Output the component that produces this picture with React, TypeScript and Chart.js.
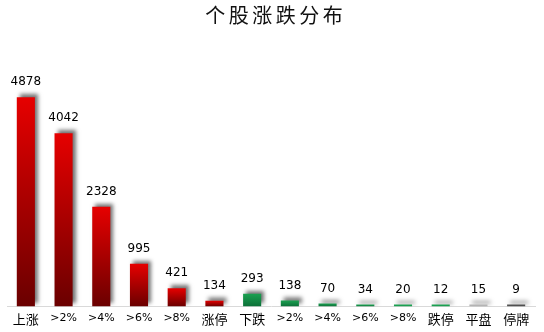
import React, { useEffect, useRef } from "react";
import { Chart, registerables } from "chart.js";
Chart.register(...registerables);

const title = "个股涨跌分布";
const categories = ["上涨", ">2%", ">4%", ">6%", ">8%", "涨停", "下跌", ">2%", ">4%", ">6%", ">8%", "跌停", "平盘", "停牌"];
const values = [4878, 4042, 2328, 995, 421, 134, 293, 138, 70, 34, 20, 12, 15, 9];
const kinds = ["up", "up", "up", "up", "up", "up", "down", "down", "down", "down", "down", "down", "flat", "halt"];

const palette: Record<string, [string, string]> = {
  up: ["#e60000", "#6a0000"],
  down: ["#1aa050", "#0c7038"],
  flat: ["#b4b4b4", "#a0a0a0"],
  halt: ["#505050", "#404040"],
};

export default function App() {
  const ref = useRef<HTMLCanvasElement>(null);
  useEffect(() => {
    document.body.style.margin = "0";
    const canvas = ref.current!;
    const shadowPlugin = {
      id: "shadow",
      beforeDatasetsDraw(chart: any) {
        const ctx = chart.ctx;
        ctx.save();
        ctx.shadowColor = "rgba(0,0,0,0.55)";
        ctx.shadowBlur = 4;
        ctx.shadowOffsetX = 3;
        ctx.shadowOffsetY = -3;
      },
      afterDatasetsDraw(chart: any) {
        chart.ctx.restore();
      },
    };
    const labelPlugin = {
      id: "labels",
      afterDraw(chart: any) {
        const ctx = chart.ctx;
        const meta = chart.getDatasetMeta(0);
        ctx.save();
        ctx.shadowColor = "transparent";
        ctx.fillStyle = "#000";
        ctx.font = "12px 'DejaVu Sans', sans-serif";
        ctx.textAlign = "center";
        ctx.textBaseline = "middle";
        meta.data.forEach((bar: any, i: number) => {
          ctx.fillText(String(values[i]), bar.x, bar.y - 15);
        });
        ctx.font = "20px 'Noto Sans CJK SC', serif";
        ctx.fillStyle = "#111";
        const chars = Array.from(title);
        const step = 23.5;
        const cx = 274;
        chars.forEach((c, i) => {
          ctx.fillText(c, cx + (i - (chars.length - 1) / 2) * step, 15);
        });
        ctx.restore();
      },
    };
    const chart = new Chart(canvas, {
      type: "bar",
      data: {
        labels: categories,
        datasets: [
          {
            data: values,
            backgroundColor: (c: any) => {
              const ch = c.chart;
              const k = kinds[c.dataIndex] || "up";
              const [top, bot] = palette[k];
              if (!ch.chartArea || c.type !== "data") return top;
              const ys = ch.scales.y;
              const y0 = ys.getPixelForValue(c.raw);
              const y1 = ys.getPixelForValue(0);
              if (y1 - y0 < 1) return top;
              const g = ch.ctx.createLinearGradient(0, y0, 0, y1);
              g.addColorStop(0, top);
              g.addColorStop(1, bot);
              return g;
            },
            borderWidth: 0,
            barPercentage: 0.48,
            categoryPercentage: 1,
            minBarLength: 2,
          },
        ],
      },
      options: {
        responsive: false,
        animation: false,
        layout: { padding: { left: 7, right: 9, top: 60, bottom: 0 } },
        plugins: { legend: { display: false }, tooltip: { enabled: false }, title: { display: false } },
        scales: {
          x: {
            grid: { display: false, drawTicks: false },
            border: { display: true, color: "#d9d9d9", width: 1 },
            ticks: {
              color: "#000",
              padding: 5,
              maxRotation: 0,
              autoSkip: false,
              font: (c: any) => {
                const l = categories[c.index] || "";
                return /[\u4e00-\u9fff]/.test(l)
                  ? { size: 13, family: "'Noto Sans CJK SC', sans-serif" }
                  : { size: 11, family: "'DejaVu Sans', sans-serif" };
              },
            },
          },
          y: {
            display: false,
            min: 0,
            max: 5750,
          },
        },
      },
      plugins: [shadowPlugin, labelPlugin],
    });
    return () => chart.destroy();
  }, []);
  return <canvas ref={ref} width={544} height={332} style={{ display: "block" }} />;
}
